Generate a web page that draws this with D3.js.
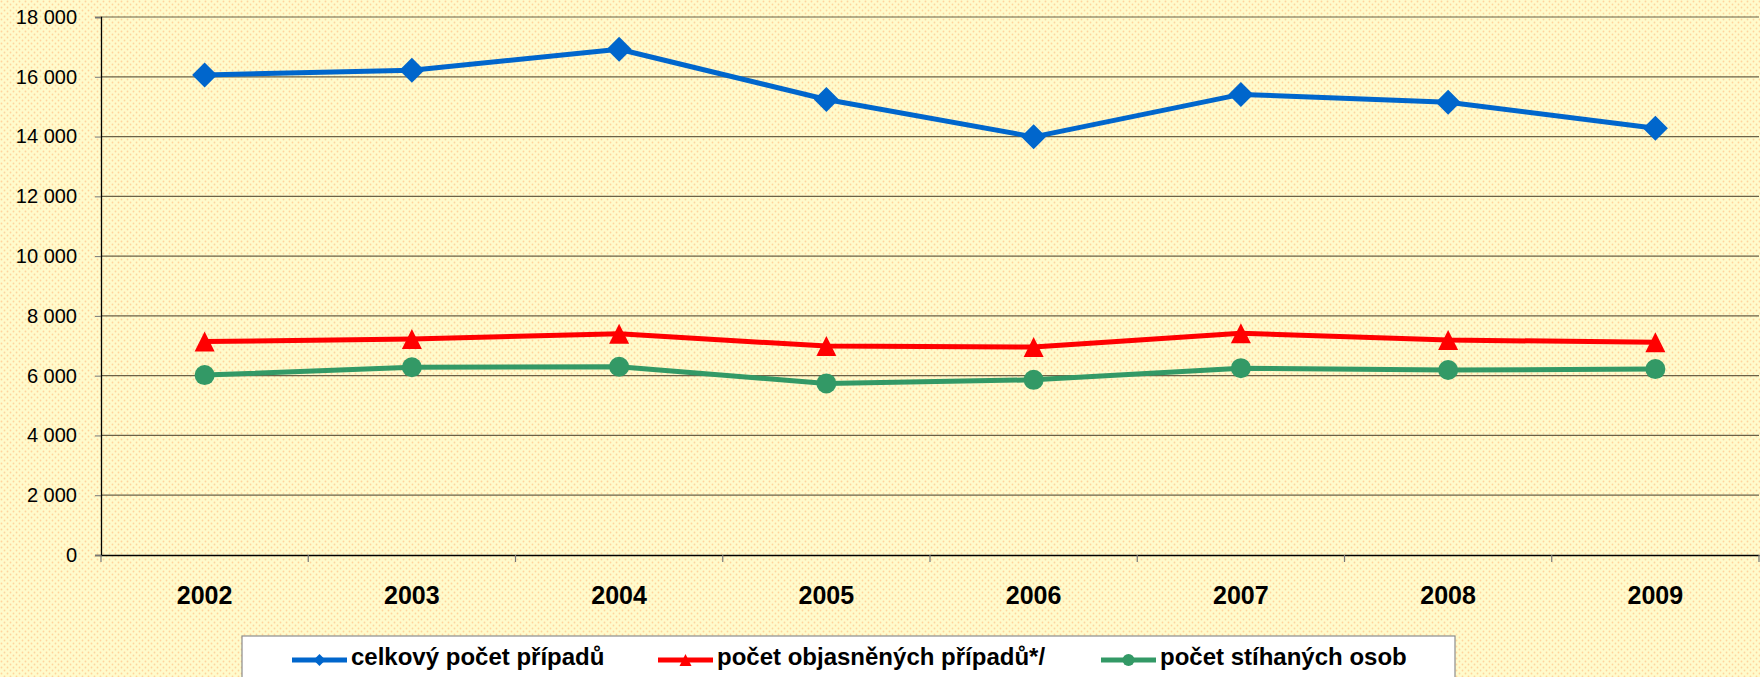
<!DOCTYPE html>
<html>
<head>
<meta charset="utf-8">
<script src="https://cdn.jsdelivr.net/npm/d3@7/dist/d3.min.js"></script>
<style>
    body { margin: 0; overflow: hidden; }
    text { font-family: "Liberation Sans", Arial, sans-serif; }
</style>
</head>
<body>
<div id="chart"></div>
<script>
// data
const years = ["2002", "2003", "2004", "2005", "2006", "2007", "2008", "2009"];
const celkovyPocet = [16060, 16220, 16920, 15240, 13990, 15410, 15150, 14280];
const objasnenePripady = [7140, 7230, 7400, 6990, 6960, 7420, 7190, 7120];
const stihaneOsoby = [6020, 6280, 6300, 5740, 5860, 6250, 6190, 6220];
const yTicks = [0, 2000, 4000, 6000, 8000, 10000, 12000, 14000, 16000, 18000];
const seriesNames = ["celkový počet případů", "počet objasněných případů*/", "počet stíhaných osob"];

const W = 1760, H = 677;
const margin = {top: 17, right: 1, bottom: 122, left: 101};
const width = W - margin.left - margin.right;
const height = H - margin.top - margin.bottom;

const svg = d3.select("#chart").append("svg")
    .attr("width", W)
    .attr("height", H);

// dotted yellow background
const defs = svg.append("defs");
const pat = defs.append("pattern")
    .attr("id", "dots")
    .attr("width", 6).attr("height", 6)
    .attr("patternUnits", "userSpaceOnUse");
pat.append("rect").attr("width", 6).attr("height", 6).attr("fill", "#fffbcc");
pat.append("circle").attr("cx", 1.5).attr("cy", 1.5).attr("r", 0.9).attr("fill", "#ffd49c");
pat.append("circle").attr("cx", 4.5).attr("cy", 4.5).attr("r", 0.9).attr("fill", "#ffd49c");

svg.append("rect").attr("width", W).attr("height", H).attr("fill", "url(#dots)");

const g = svg.append("g")
    .attr("transform", "translate(" + margin.left + "," + margin.top + ")");

// scales
const x = d3.scaleBand().domain(years).range([0, width]);
const y = d3.scaleLinear().domain([0, 18000]).range([height, 0]);

// gridlines
g.append("g").attr("class", "grid")
    .selectAll("line")
    .data(yTicks.filter(d => d > 0))
    .enter().append("line")
    .attr("x1", 0).attr("x2", width)
    .attr("y1", d => y(d)).attr("y2", d => y(d))
    .attr("stroke", "#6b6248")
    .attr("stroke-width", 1.2);

// y axis
const fmt = d => d3.format(",")(d).replace(/,/g, " ");
const yAxis = g.append("g")
    .call(d3.axisLeft(y).tickValues(yTicks).tickSize(6).tickPadding(18).tickFormat(fmt));
yAxis.select(".domain").attr("stroke", "#000").attr("stroke-width", 1.3);
yAxis.selectAll(".tick line").attr("stroke", "#777");
yAxis.selectAll("text").attr("font-size", 20).attr("fill", "#000")
    .attr("font-family", "'Liberation Sans', Arial, sans-serif");

// x axis
const xAxis = g.append("g")
    .attr("transform", "translate(0," + height + ")")
    .call(d3.axisBottom(x).tickSize(0).tickSizeOuter(0).tickPadding(31));
xAxis.select(".domain").attr("stroke", "#000").attr("stroke-width", 1.3);
xAxis.selectAll("text").attr("font-size", 25).attr("font-weight", "bold").attr("fill", "#000")
    .attr("font-family", "'Liberation Sans', Arial, sans-serif");

// boundary ticks between categories
const bounds = years.map(d => x(d)).concat([x.range()[1]]);
xAxis.selectAll(".btick")
    .data(bounds)
    .enter().append("line")
    .attr("class", "btick")
    .attr("x1", d => d).attr("x2", d => d)
    .attr("y1", 0).attr("y2", 7)
    .attr("stroke", "#777")
    .attr("stroke-width", 1.2);

// series
const cx = d => x(d) + x.bandwidth() / 2;
const series = [
    {name: seriesNames[0], values: celkovyPocet, color: "#0066cc", shape: "diamond"},
    {name: seriesNames[1], values: objasnenePripady, color: "#ff0000", shape: "triangle"},
    {name: seriesNames[2], values: stihaneOsoby, color: "#339966", shape: "circle"}
];

function markerPath(shape, r) {
    if (shape === "diamond") {
        return "M0," + (-r) + "L" + r + ",0L0," + r + "L" + (-r) + ",0Z";
    }
    if (shape === "triangle") {
        return "M0," + (-r) + "L" + r + "," + r + "L" + (-r) + "," + r + "Z";
    }
    return d3.symbol(d3.symbolCircle, Math.PI * r * r)();
}

const line = d3.line()
    .x(d => cx(d.year))
    .y(d => y(d.value));

series.forEach(s => {
    const pts = years.map((yr, i) => ({year: yr, value: s.values[i]}));

    g.append("path")
        .datum(pts)
        .attr("fill", "none")
        .attr("stroke", s.color)
        .attr("stroke-width", 5)
        .attr("stroke-linejoin", "round")
        .attr("d", line);

    const r = s.shape === "diamond" ? 12.5 : 10;
    g.selectAll(".m-" + s.shape)
        .data(pts)
        .enter().append("path")
        .attr("class", "m-" + s.shape)
        .attr("transform", d => "translate(" + cx(d.year) + "," + y(d.value) + ")")
        .attr("d", markerPath(s.shape, r))
        .attr("fill", s.color);
});

// legend
const legend = svg.append("g").attr("class", "legend");
legend.append("rect")
    .attr("x", 242).attr("y", 636)
    .attr("width", 1213).attr("height", 60)
    .attr("fill", "#fff")
    .attr("stroke", "#8c8c8c")
    .attr("stroke-width", 1.2);

const legendX = [292, 658, 1101];
const items = legend.selectAll(".item")
    .data(series)
    .enter().append("g")
    .attr("class", "item")
    .attr("transform", (d, i) => "translate(" + legendX[i] + ",660)");

items.append("line")
    .attr("x1", 0).attr("x2", 55)
    .attr("y1", 0).attr("y2", 0)
    .attr("stroke", d => d.color)
    .attr("stroke-width", 5);

items.append("path")
    .attr("transform", "translate(27.5,0)")
    .attr("d", d => markerPath(d.shape, d.shape === "circle" ? 6 : 6))
    .attr("fill", d => d.color);

items.append("text")
    .attr("x", 59)
    .attr("y", 5)
    .attr("font-size", 24)
    .attr("font-weight", "bold")
    .attr("fill", "#000")
    .text(d => d.name);
</script>
</body>
</html>
